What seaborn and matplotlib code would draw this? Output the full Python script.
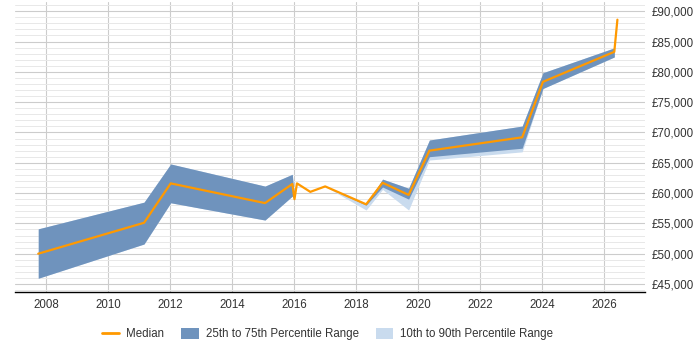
import matplotlib
matplotlib.use("Agg")
import matplotlib.pyplot as plt
import matplotlib.ticker as mticker
from matplotlib.lines import Line2D
from matplotlib.patches import Patch
import seaborn as sns
import numpy as np
import pandas as pd

# decimal years
years = [2007.75, 2011.16, 2012.02, 2015.06, 2015.94, 2016.01, 2016.09, 2016.52,
         2017.0, 2018.32, 2018.85, 2019.69, 2020.36, 2023.35, 2024.02, 2026.32, 2026.42]
median = [50000, 55100, 61600, 58350, 61500, 59000, 61600, 60200,
          61100, 58150, 61700, 59700, 67000, 69200, 78350, 83300, 88600]
p25 = [45950, 51600, 58400, 55550, 59500, 59000, 61600, 60200,
       61100, 58000, 61000, 59000, 66000, 67400, 77250, 82450, np.nan]
p75 = [54100, 58500, 64800, 61150, 63100, 59000, 61600, 60200,
       61100, 58150, 62300, 60800, 68750, 71050, 79850, 83950, np.nan]
p10 = [45950, 51600, 58400, 55550, 59500, 59000, 61600, 60200,
       61100, 57200, 60600, 57200, 65450, 66800, 77250, 82450, np.nan]
p90 = [54100, 58500, 64800, 61150, 63100, 59000, 61600, 60200,
       61100, 58150, 62300, 60800, 68750, 71050, 79850, 83950, np.nan]

xticks = [2008, 2010, 2012, 2014, 2016, 2018, 2020, 2022, 2024, 2026]

df = pd.DataFrame({"year": years, "median": median})

sns.set_style("white")
plt.rcParams["font.family"] = ["Liberation Sans", "DejaVu Sans"]

orange = "#ff9900"
dark = "#6f93bd"
light = "#c9dbee"

fig = plt.figure(figsize=(7, 3.5), dpi=100)
ax = fig.add_axes([0.0214, 0.166, 0.8996, 0.828])

ax.fill_between(years, p10, p90, color=light, linewidth=0, zorder=2)
ax.fill_between(years, p25, p75, color=dark, linewidth=0, zorder=3)
sns.lineplot(data=df, x="year", y="median", color=orange, linewidth=1.6,
             ax=ax, zorder=4, legend=False)

ax.set_xlim(2007.0, 2027.3)
ax.set_ylim(43700, 91500)
ax.set_xticks(xticks)
ax.set_xticklabels([str(t) for t in xticks])
ax.yaxis.set_major_locator(mticker.MultipleLocator(5000))
ax.yaxis.set_minor_locator(mticker.MultipleLocator(1000))
ax.yaxis.set_major_formatter(mticker.FuncFormatter(lambda v, p: "£{:,.0f}".format(v)))
ax.yaxis.tick_right()

ax.grid(axis="x", which="major", color="#cccccc", linewidth=0.8, zorder=0)
ax.grid(axis="y", which="major", color="#cccccc", linewidth=0.8, zorder=0)
ax.grid(axis="y", which="minor", color="#e8e8e8", linewidth=0.7, zorder=0)
ax.set_axisbelow(True)

for s in ["top", "left", "right"]:
    ax.spines[s].set_visible(False)
ax.spines["bottom"].set_color("#000000")
ax.spines["bottom"].set_linewidth(1.0)

ax.tick_params(axis="y", which="both", length=0, pad=5, labelsize=8.3, colors="#333333")
ax.tick_params(axis="x", length=3, pad=2, labelsize=8.3, colors="#333333", color="#000000")
ax.set_xlabel("")
ax.set_ylabel("")

handles = [
    Line2D([0], [0], color=orange, linewidth=2),
    Patch(facecolor=dark, edgecolor="none"),
    Patch(facecolor=light, edgecolor="none"),
]
labels = ["Median", "25th to 75th Percentile Range", "10th to 90th Percentile Range"]
fig.legend(handles, labels, loc="center", bbox_to_anchor=(0.468, 0.045), ncol=3,
           frameon=False, fontsize=8.3, handlelength=1.5, handleheight=1.1,
           columnspacing=1.5, handletextpad=0.6, labelcolor="#333333")

fig.savefig("out.png", dpi=100)
